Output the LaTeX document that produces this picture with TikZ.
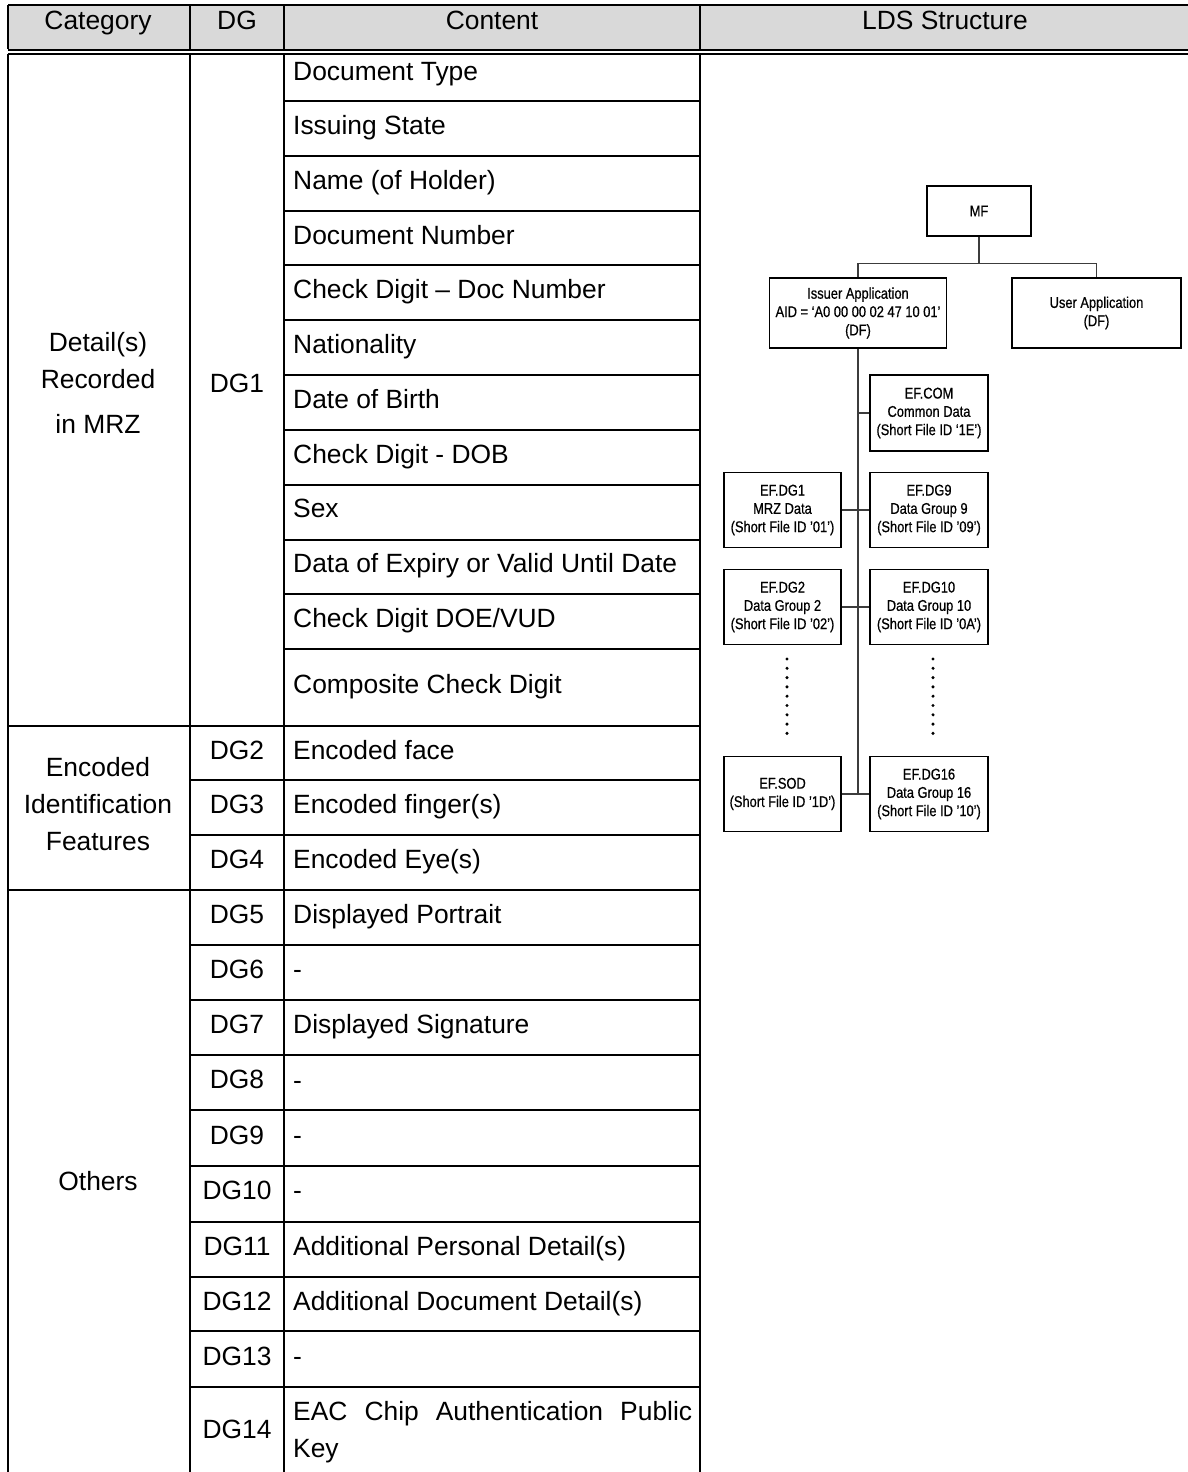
\documentclass[tikz,border=0pt]{standalone}
\usepackage{fontspec}
\setmainfont{Liberation Sans}
\newfontfamily\narrowfont[FakeStretch=0.83,FakeBold=0.6]{Liberation Sans}
\definecolor{hdrgrey}{RGB}{217,217,217}
\definecolor{connclr}{RGB}{60,60,60}
\begin{document}
\begin{tikzpicture}[x=1pt,y=-1pt,
  grid/.style={line width=1.5pt,black},
  bodytxt/.style={inner sep=0pt,font=\fontsize{26.4}{30}\selectfont},
  ctxt/.style={bodytxt,anchor=base},
  ltxt/.style={bodytxt,anchor=base west},
  ldsbox/.style={draw,line width=1.8pt,inner sep=0pt,align=center,
    font=\narrowfont\fontsize{15.5}{18.3}\selectfont},
  conn/.style={line width=1.2pt,connclr}]
\useasboundingbox (0,0) rectangle (1188,1472);
% header
\fill[hdrgrey] (8,5) rectangle (1188,49);
\draw[line width=2pt] (8,5) -- (1188,5);
\draw[line width=2.4pt] (8,49.8) -- (1188,49.8);
\draw[line width=1.6pt] (8,54) -- (1188,54);
\foreach \xx in {8,190,284,700}{\draw[grid] (\xx,5) -- (\xx,49);}
% body verticals
\foreach \xx in {8,190,284,700}{\draw[grid] (\xx,54) -- (\xx,1472);}
% content rows
\foreach \yy in {101,156,211,265,320,375,430,485,540,594,649}{\draw[grid] (284,\yy) -- (700,\yy);}
\foreach \yy in {780,835,945,1000,1055,1110,1166,1222,1277,1331,1387}{\draw[grid] (190,\yy) -- (700,\yy);}
\foreach \yy in {726,890}{\draw[grid] (8,\yy) -- (700,\yy);}
% header texts
\node[ctxt] (hcat) at (98,30) {Category};
\node[ctxt] (hdg) at (237,30) {DG};
\node[ctxt] (hcon) at (492,30) {Content};
\node[ctxt] (hlds) at (945,30) {LDS Structure};
% category texts
\node[ctxt] (c1a) at (98,351) {Detail(s)};
\node[ctxt] (c1b) at (98,388) {Recorded};
\node[ctxt] (c1c) at (98,433) {in MRZ};
\node[ctxt] (c2a) at (98,776) {Encoded};
\node[ctxt] (c2b) at (98,813) {Identification};
\node[ctxt] (c2c) at (98,850) {Features};
\node[ctxt] (c3) at (98,1190) {Others};
% DG labels
\node[ctxt] (g1) at (237,392) {DG1};
\node[ctxt] (g2) at (237,759) {DG2};
\node[ctxt] (g3) at (237,813) {DG3};
\node[ctxt] (g4) at (237,868) {DG4};
\node[ctxt] (g5) at (237,923) {DG5};
\node[ctxt] (g6) at (237,978) {DG6};
\node[ctxt] (g7) at (237,1033) {DG7};
\node[ctxt] (g8) at (237,1088) {DG8};
\node[ctxt] (g9) at (237,1144) {DG9};
\node[ctxt] (g10) at (237,1199) {DG10};
\node[ctxt] (g11) at (237,1255) {DG11};
\node[ctxt] (g12) at (237,1310) {DG12};
\node[ctxt] (g13) at (237,1365) {DG13};
\node[ctxt] (g14) at (237,1438) {DG14};
% content texts
\node[ltxt] (t1) at (293,81) {Document Type};
\node[ltxt] (t2) at (293,134) {Issuing State};
\node[ltxt] (t3) at (293,189) {Name (of Holder)};
\node[ltxt] (t4) at (293,244) {Document Number};
\node[ltxt] (t5) at (293,298) {Check Digit – Doc Number};
\node[ltxt] (t6) at (293,353) {Nationality};
\node[ltxt] (t7) at (293,408) {Date of Birth};
\node[ltxt] (t8) at (293,463) {Check Digit - DOB};
\node[ltxt] (t9) at (293,517) {Sex};
\node[ltxt] (t10) at (293,572) {Data of Expiry or Valid Until Date};
\node[ltxt] (t11) at (293,627) {Check Digit DOE/VUD};
\node[ltxt] (t12) at (293,693) {Composite Check Digit};
\node[ltxt] (t13) at (293,759) {Encoded face};
\node[ltxt] (t14) at (293,813) {Encoded finger(s)};
\node[ltxt] (t15) at (293,868) {Encoded Eye(s)};
\node[ltxt] (t16) at (293,923) {Displayed Portrait};
\node[ltxt] (t17) at (293,978) {-};
\node[ltxt] (t18) at (293,1033) {Displayed Signature};
\node[ltxt] (t19) at (293,1089) {-};
\node[ltxt] (t20) at (293,1144) {-};
\node[ltxt] (t21) at (293,1199) {-};
\node[ltxt] (t22) at (293,1255) {Additional Personal Detail(s)};
\node[ltxt] (t23) at (293,1310) {Additional Document Detail(s)};
\node[ltxt] (t24) at (293,1365) {-};
\node[ltxt] (t25a) at (293,1420) {\makebox[399pt][s]{EAC Chip Authentication Public}};
\node[ltxt] (t25b) at (293,1457) {Key};
% LDS tree
\node[ldsbox,minimum width=104pt,minimum height=50pt] (mf) at (979,211) {MF};
\node[ldsbox,minimum width=177pt,minimum height=70pt] (iss) at (858,313) {Issuer Application\\AID = ‘A0 00 00 02 47 10 01’\\(DF)};
\node[ldsbox,minimum width=169pt,minimum height=70pt] (usr) at (1096.5,313) {User Application\\(DF)};
\node[ldsbox,minimum width=118pt,minimum height=76pt] (com) at (929,413) {EF.COM\\Common Data\\(Short File ID ‘1E’)};
\node[ldsbox,minimum width=117pt,minimum height=75pt] (dg1) at (782.5,510) {EF.DG1\\MRZ Data\\(Short File ID ’01’)};
\node[ldsbox,minimum width=118pt,minimum height=75pt] (dg9) at (929,510) {EF.DG9\\Data Group 9\\(Short File ID ’09’)};
\node[ldsbox,minimum width=117pt,minimum height=75pt] (dg2) at (782.5,607) {EF.DG2\\Data Group 2\\(Short File ID ’02’)};
\node[ldsbox,minimum width=118pt,minimum height=75pt] (dg10) at (929,607) {EF.DG10\\Data Group 10\\(Short File ID ’0A’)};
\node[ldsbox,minimum width=117pt,minimum height=75pt] (sod) at (782.5,794) {EF.SOD\\(Short File ID ’1D’)};
\node[ldsbox,minimum width=118pt,minimum height=75pt] (dg16) at (929,794) {EF.DG16\\Data Group 16\\(Short File ID ’10’)};
% connectors
\draw[conn] (mf.south) -- ++(0,26.5) coordinate (bus);
\draw[conn] (iss.north) |- (bus) -| (usr.north);
\coordinate (trunkend) at (sod.east -| iss.south);
\draw[conn] (iss.south) -- (trunkend);
\draw[conn] (com.west) -- (com.west -| iss.south);
\draw[conn] (dg1.east) -- (dg9.west);
\draw[conn] (dg2.east) -- (dg10.west);
\draw[conn] (sod.east) -- (dg16.west);
% ellipsis dots
\foreach \i in {0,...,8}{
  \fill (787,659+9.3*\i) circle (1.7);
  \fill (933,659+9.3*\i) circle (1.7);
}
\end{tikzpicture}
\end{document}
